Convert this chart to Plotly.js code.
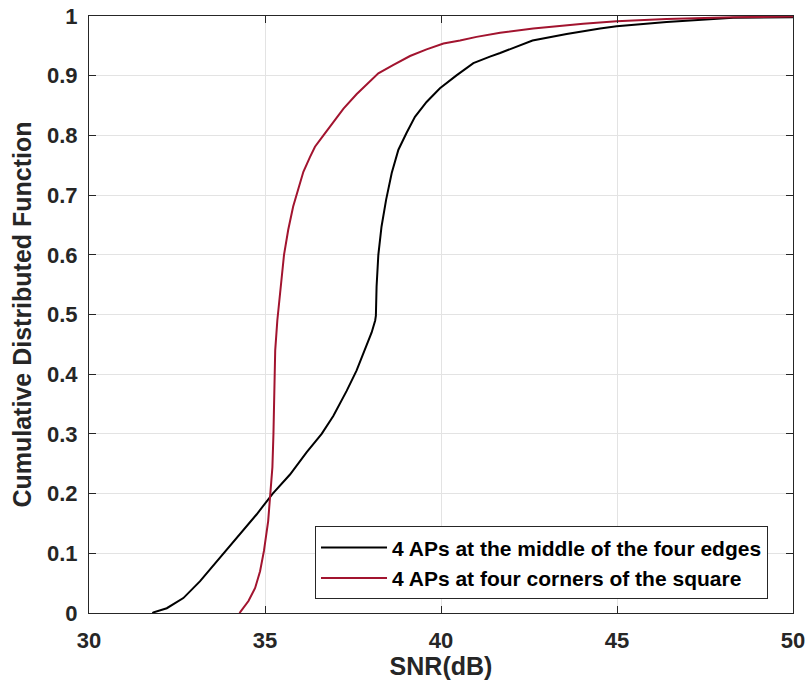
<!DOCTYPE html>
<html>
<head>
<meta charset="utf-8">
<script src="https://cdn.plot.ly/plotly-3.0.1.min.js"></script>
<style>html,body{margin:0;padding:0;background:#fff;}#chart{width:809px;height:680px;}</style>
</head>
<body>
<div id="chart"></div>
<script>
// Series: 4 APs at the middle of the four edges (black)
const snrEdges = [31.8, 31.83, 32.21, 32.68, 33.15, 33.72, 34.29, 34.76, 35.22, 35.71, 36.18, 36.61, 36.94, 37.32, 37.6, 37.84, 38.03, 38.13, 38.15, 38.17, 38.22, 38.31, 38.44, 38.6, 38.79, 39.02, 39.26, 39.59, 39.97, 40.45, 40.92, 41.39, 41.68, 42.6, 43.57, 44.52, 44.99, 46.41, 47.36, 48.3, 50];
const cdfEdges = [0, 0.001, 0.008, 0.025, 0.053, 0.092, 0.132, 0.165, 0.200, 0.232, 0.269, 0.300, 0.330, 0.372, 0.406, 0.440, 0.470, 0.490, 0.498, 0.547, 0.600, 0.647, 0.692, 0.737, 0.776, 0.804, 0.831, 0.856, 0.879, 0.901, 0.921, 0.932, 0.938, 0.959, 0.970, 0.979, 0.983, 0.990, 0.994, 0.997, 0.998];
// Series: 4 APs at four corners of the square (red)
const snrCorners = [34.27, 34.29, 34.53, 34.72, 34.86, 34.97, 35.09, 35.16, 35.21, 35.24, 35.26, 35.29, 35.35, 35.44, 35.54, 35.66, 35.8, 35.95, 36.09, 36.28, 36.42, 36.66, 36.94, 37.23, 37.6, 37.89, 38.22, 38.65, 39.12, 39.59, 40.07, 40.54, 41.01, 41.68, 42.62, 44.04, 44.99, 46.41, 48.3, 50];
const cdfCorners = [0, 0.001, 0.020, 0.042, 0.070, 0.104, 0.154, 0.200, 0.244, 0.300, 0.356, 0.440, 0.490, 0.547, 0.600, 0.642, 0.681, 0.711, 0.739, 0.764, 0.781, 0.800, 0.823, 0.845, 0.869, 0.886, 0.904, 0.918, 0.933, 0.944, 0.954, 0.959, 0.965, 0.972, 0.979, 0.987, 0.991, 0.995, 0.998, 0.999];
const seriesNames = ["4 APs at the middle of the four edges", "4 APs at four corners of the square"];
const xTicks = [30, 35, 40, 45, 50];
const yTicks = [0, 0.1, 0.2, 0.3, 0.4, 0.5, 0.6, 0.7, 0.8, 0.9, 1];

const font = "Liberation Sans, Arial, Helvetica, sans-serif";
const traces = [
  {x: snrEdges, y: cdfEdges, name: seriesNames[0], mode: "lines", line: {color: "#000000", width: 2}},
  {x: snrCorners, y: cdfCorners, name: seriesNames[1], mode: "lines", line: {color: "#A2142F", width: 2}}
];
const axisCommon = {
  showline: true, linecolor: "#262626", linewidth: 1, mirror: "ticks",
  ticks: "inside", ticklen: 7, tickcolor: "#262626", tickwidth: 1,
  showgrid: true, gridcolor: "#e3e3e3", gridwidth: 1, zeroline: false,
  tickfont: {family: font, size: 22, color: "#262626", weight: "bold"}
};
const layout = {
  width: 809, height: 680,
  margin: {l: 89, r: 16, t: 16, b: 67},
  paper_bgcolor: "#fff", plot_bgcolor: "#fff",
  showlegend: true,
  xaxis: Object.assign({}, axisCommon, {
    range: [30, 50], tickvals: xTicks, ticktext: xTicks.map(String),
    ticklabelstandoff: 8,
    title: {text: "SNR(dB)", font: {family: font, size: 25, color: "#262626", weight: "bold"}, standoff: 2}
  }),
  yaxis: Object.assign({}, axisCommon, {
    range: [0, 1], tickvals: yTicks, ticktext: yTicks.map(String),
    ticklabelstandoff: 6,
    title: {text: "Cumulative Distributed Function", font: {family: font, size: 25, color: "#262626", weight: "bold"}, standoff: 8}
  }),
  legend: {
    x: 0.9645, y: 0.145, xanchor: "right", yanchor: "top",
    bgcolor: "#fff", bordercolor: "#262626", borderwidth: 1,
    itemwidth: 66,
    font: {family: font, size: 21, color: "#000", weight: "bold"},
    tracegroupgap: 0
  }
};
Plotly.newPlot("chart", traces, layout, {displayModeBar: false, staticPlot: true});
</script>
</body>
</html>
